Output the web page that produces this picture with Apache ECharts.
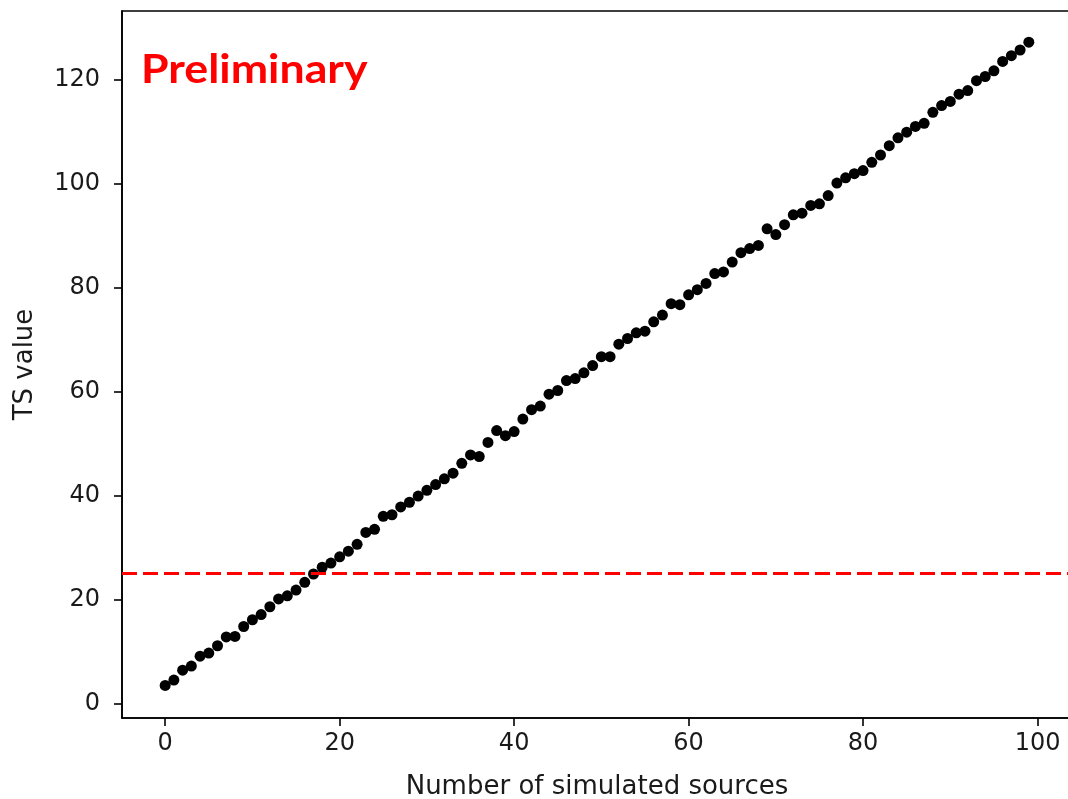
<!DOCTYPE html>
<html>
<head>
<meta charset="utf-8">
<title>TS value vs number of simulated sources</title>
<script src="https://cdn.jsdelivr.net/npm/echarts@6/dist/echarts.min.js"></script>
<style>
  html, body { margin: 0; padding: 0; background: #fff; }
  #chart { width: 1068px; height: 799px; }
</style>
</head>
<body>
<div id="chart"></div>
<script>
// Number of simulated sources injected (x)
const sources = [
  0, 1, 2, 3, 4, 5, 6, 7, 8, 9,
  10, 11, 12, 13, 14, 15, 16, 17, 18, 19,
  20, 21, 22, 23, 24, 25, 26, 27, 28, 29,
  30, 31, 32, 33, 34, 35, 36, 37, 38, 39,
  40, 41, 42, 43, 44, 45, 46, 47, 48, 49,
  50, 51, 52, 53, 54, 55, 56, 57, 58, 59,
  60, 61, 62, 63, 64, 65, 66, 67, 68, 69,
  70, 71, 72, 73, 74, 75, 76, 77, 78, 79,
  80, 81, 82, 83, 84, 85, 86, 87, 88, 89,
  90, 91, 92, 93, 94, 95, 96, 97, 98, 99
];

// Resulting test-statistic value for each source count
const tsValues = [
  3.46, 4.5, 6.4, 7.2, 9.1, 9.7, 11.1, 12.8, 12.9, 14.8,
  16.1, 17.1, 18.6, 20.1, 20.7, 21.8, 23.3, 24.9, 26.2, 27.0,
  28.2, 29.3, 30.6, 32.9, 33.5, 36.0, 36.3, 37.8, 38.7, 39.9,
  41.0, 42.1, 43.2, 44.3, 46.2, 47.8, 47.5, 50.2, 52.5, 51.5,
  52.3, 54.7, 56.5, 57.2, 59.5, 60.2, 62.1, 62.5, 63.6, 65.0,
  66.7, 66.7, 69.1, 70.2, 71.3, 71.6, 73.4, 74.7, 76.9, 76.7,
  78.6, 79.6, 80.8, 82.7, 83.0, 84.9, 86.7, 87.5, 88.1, 91.3,
  90.2, 92.1, 94.0, 94.3, 95.8, 96.1, 97.7, 100.1, 101.1, 101.9,
  102.5, 104.1, 105.5, 107.3, 108.8, 109.9, 111.0, 111.6, 113.7, 115.0,
  115.8, 117.2, 117.9, 119.8, 120.6, 121.7, 123.5, 124.6, 125.7, 127.2
];

// Detection threshold
const threshold = 25;

// Tick labels
const xTicks = [0, 20, 40, 60, 80, 100];
const yTicks = [0, 20, 40, 60, 80, 100, 120];

const points = sources.map((s, i) => [s, tsValues[i]]);

const tickFont = {
  fontFamily: 'DejaVu Sans',
  fontSize: 24,
  color: '#1a1a1a'
};
const nameFont = {
  fontFamily: 'DejaVu Sans',
  fontSize: 26,
  color: '#1a1a1a'
};

const chart = echarts.init(document.getElementById('chart'), null, { renderer: 'canvas' });

chart.setOption({
  animation: false,
  backgroundColor: '#ffffff',
  grid: {
    left: 122,
    top: 11,
    width: 950,
    height: 707,
    show: true,
    borderColor: '#000',
    borderWidth: 1.6,
    containLabel: false,
    outerBoundsMode: 'none'
  },
  xAxis: {
    type: 'value',
    min: -4.95,
    max: 103.95,
    name: 'Number of simulated sources',
    nameLocation: 'middle',
    nameGap: 56,
    nameTextStyle: nameFont,
    axisLine: { show: true, onZero: false, lineStyle: { color: '#000', width: 1.6 } },
    axisTick: {
      show: true,
      inside: false,
      length: 8,
      customValues: xTicks,
      lineStyle: { color: '#000', width: 1.6 }
    },
    axisLabel: Object.assign({ margin: 14, customValues: xTicks }, tickFont),
    splitLine: { show: false }
  },
  yAxis: {
    type: 'value',
    min: -2.8,
    max: 133.2,
    name: 'TS value',
    nameLocation: 'middle',
    nameGap: 84,
    nameRotate: 90,
    nameTextStyle: nameFont,
    axisLine: { show: true, onZero: false, lineStyle: { color: '#000', width: 1.6 } },
    axisTick: {
      show: true,
      inside: false,
      length: 8,
      customValues: yTicks,
      lineStyle: { color: '#000', width: 1.6 }
    },
    axisLabel: Object.assign({ margin: 22, customValues: yTicks }, tickFont),
    splitLine: { show: false }
  },
  series: [
    {
      type: 'scatter',
      data: points,
      symbol: 'circle',
      symbolSize: 11,
      itemStyle: { color: '#000', opacity: 1 },
      z: 3,
      markLine: {
        silent: true,
        symbol: ['none', 'none'],
        label: { show: false },
        lineStyle: { color: '#ff0000', width: 3, type: [15, 6] },
        data: [{ yAxis: threshold }]
      }
    }
  ],
  graphic: [
    {
      type: 'text',
      x: 141,
      y: 49,
      scaleX: 1.09,
      style: {
        text: 'Preliminary',
        fill: '#ff0000',
        font: 'bold 41px Lato'
      },
      z: 10
    }
  ]
});
</script>
</body>
</html>
